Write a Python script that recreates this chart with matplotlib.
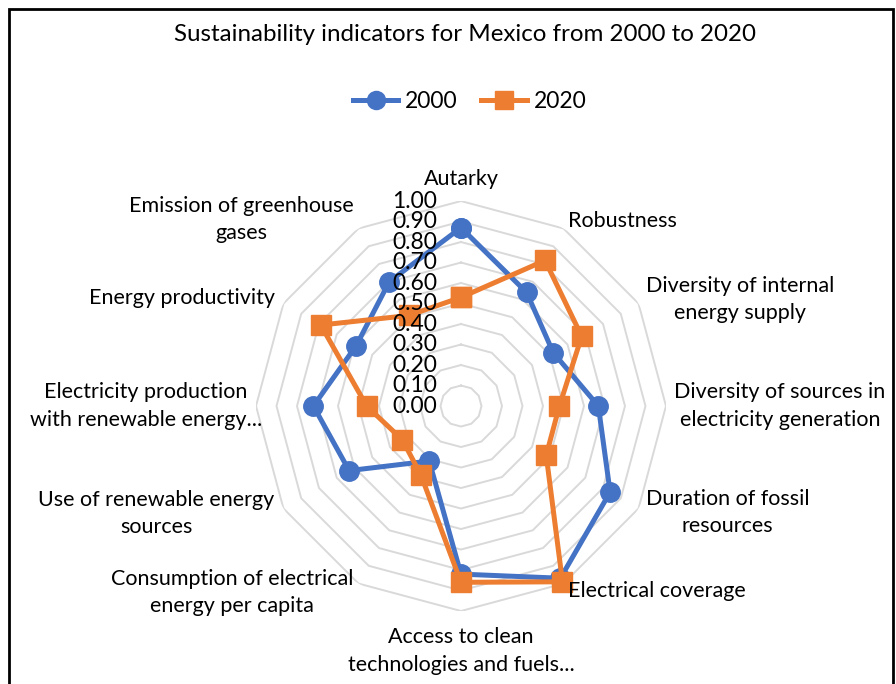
import numpy as np
import matplotlib.pyplot as plt
from matplotlib.patches import Rectangle
from matplotlib.lines import Line2D
import matplotlib.transforms as mtransforms

plt.rcParams['font.family'] = ['Lato', 'DejaVu Sans']

categories = [
    "Autarky",
    "Robustness",
    "Diversity of internal\nenergy supply",
    "Diversity of sources in\nelectricity generation",
    "Duration of fossil\nresources",
    "Electrical coverage",
    "Access to clean\ntechnologies and fuels...",
    "Consumption of electrical\nenergy per capita",
    "Use of renewable energy\nsources",
    "Electricity production\nwith renewable energy...",
    "Energy productivity",
    "Emission of greenhouse\ngases",
]
values_2000 = [0.87, 0.64, 0.52, 0.67, 0.84, 0.97, 0.82, 0.31, 0.63, 0.72, 0.59, 0.70]
values_2020 = [0.53, 0.82, 0.68, 0.48, 0.48, 0.99, 0.86, 0.39, 0.33, 0.46, 0.79, 0.51]
ring_levels = [0.1, 0.2, 0.3, 0.4, 0.5, 0.6, 0.7, 0.8, 0.9, 1.0]
tick_levels = [0.0, 0.1, 0.2, 0.3, 0.4, 0.5, 0.6, 0.7, 0.8, 0.9, 1.0]

blue = "#4472C4"
orange = "#ED7D31"
grid_col = "#D9D9D9"

fig = plt.figure(figsize=(8.96, 6.84), dpi=100)
ax = fig.add_axes([0.2857, 0.1067, 0.4576, 0.5994], projection='polar')
ax.set_theta_zero_location('N')
ax.set_theta_direction(-1)
ax.set_ylim(0, 1)
ax.grid(False)
ax.spines['polar'].set_visible(False)
ax.set_xticks([])
ax.set_yticks([])
ax.patch.set_alpha(0)

n = len(categories)
angles = np.linspace(0, 2 * np.pi, n, endpoint=False)
closed = np.append(angles, angles[0])

# polygon grid rings
for lv in ring_levels:
    ax.plot(closed, [lv] * (n + 1), color=grid_col, lw=1.4, zorder=1)

# series
for vals, col, mk, ms, lab in [(values_2000, blue, 'o', 14, '2000'),
                               (values_2020, orange, 's', 15, '2020')]:
    ax.plot(closed, list(vals) + [vals[0]], color=col, lw=3.6, marker=mk,
            markersize=ms, zorder=3, label=lab, clip_on=False)

# value axis labels
lab_tr = ax.transData + mtransforms.ScaledTranslation(-0.24, 0, fig.dpi_scale_trans)
for lv in tick_levels:
    ax.text(0, lv, f"{lv:.2f}", transform=lab_tr, ha='right', va='center',
            fontsize=16.5, color='black', zorder=4)

# category labels
for ang, cat in zip(angles, categories):
    deg = round(np.degrees(ang)) % 360
    if deg == 0:
        ha, va, r = 'center', 'bottom', 1.06
    elif deg == 180:
        ha, va, r = 'center', 'top', 1.08
    elif deg < 180:
        ha, va, r = 'left', 'center', 1.04
    elif deg == 270:
        ha, va, r = 'right', 'center', 0.97
    else:
        ha, va, r = 'right', 'center', 1.05
    ax.text(ang, r, cat, ha=ha, va=va, multialignment='center',
            fontsize=15.5, color='black', linespacing=1.45)

fig.text(0.519, 0.950, "Sustainability indicators for Mexico from 2000 to 2020",
         ha='center', va='center', fontsize=17.4)

handles = [Line2D([], [], color=blue, lw=3.6, marker='o', markersize=13),
           Line2D([], [], color=orange, lw=3.6, marker='s', markersize=13)]
fig.legend(handles, ['2000', '2020'], loc='center', bbox_to_anchor=(0.524, 0.851),
           ncol=2, frameon=False, fontsize=16.5, handlelength=2.0,
           handletextpad=0.3, columnspacing=1.0)

fig.patches.append(Rectangle((9 / 896, -0.1), 884 / 896, 1.1 - 9 / 684,
                             transform=fig.transFigure, fill=False,
                             edgecolor='black', lw=2, zorder=10))

fig.savefig("out.png", dpi=100)
